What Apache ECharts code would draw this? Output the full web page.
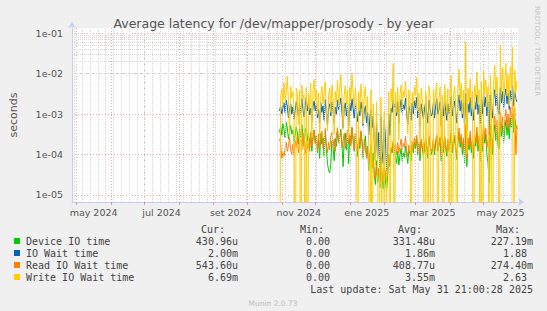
<!DOCTYPE html>
<html><head><meta charset="utf-8">
<script src="https://cdn.jsdelivr.net/npm/echarts@6/dist/echarts.min.js"></script>
<style>html,body{margin:0;padding:0;background:#f0f0f0;}#c{width:547px;height:311px;}</style>
</head><body><div id="c"></div>
<script>
// ---- data ----
const firstSample = Date.UTC(2024, 9, 30); // first daily sample (2024-10-30)
const DAY = 86400000;
const rangeStart = Date.UTC(2024, 3, 26, 21, 0, 28);
const rangeEnd = Date.UTC(2025, 4, 31, 21, 0, 28);

const seriesNames = ['Device IO time', 'IO Wait time', 'Read IO Wait time', 'Write IO Wait time'];
const seriesColors = ['#00cc00', '#0066b3', '#ff8000', '#ffcc00'];
const curVals = ['430.96u', '2.00m', '543.60u', '6.69m'];
const minVals = ['0.00', '0.00', '0.00', '0.00'];
const avgVals = ['331.48u', '1.86m', '408.77u', '3.55m'];
const maxVals = ['227.19m', '1.88', '274.40m', '2.63'];
const monthNames = ['ene','feb','mar','abr','may','jun','jul','ago','set','oct','nov','dic'];
const yTickLabels = {'-5':'1e-05','-4':'1e-04','-3':'1e-03','-2':'1e-02','-1':'1e-01'};

const deviceIO = [
3.5e-4,5.0e-4,3.0e-4,5.8e-4,4.2e-4,2.6e-4,6.2e-4,4.5e-4,2.4e-4,3.6e-4,
5.2e-4,3.2e-4,4.0e-4,2.0e-4,3.0e-4,4.8e-4,3.4e-4,1.8e-4,4.4e-4,2.6e-4,
5.5e-4,3.0e-4,1.6e-4,3.8e-4,4.6e-4,2.2e-4,3.5e-4,1.5e-4,3.2e-4,1.2e-4,
2.8e-4,4.0e-4,2.0e-4,3.0e-4,1.1e-4,2.4e-4,8.0e-5,3.3e-4,1.8e-4,2.6e-4,
9.0e-5,3.6e-4,1.4e-4,6.0e-5,4.0e-5,3.5e-5,6.0e-5,2.2e-4,1.5e-4,7.0e-5,
2.5e-4,1.6e-4,3.8e-4,2.0e-4,2.8e-4,4.2e-4,1.7e-4,5.0e-5,2.3e-4,3.4e-4,
1.3e-4,2.6e-4,6.0e-5,3.0e-4,1.9e-4,4.5e-4,2.4e-4,1.2e-4,3.2e-4,1.8e-4,
9.0e-5,2.6e-4,1.4e-4,3.6e-4,2.0e-4,8.0e-5,1.7e-4,2.9e-4,9.0e-5,1.6e-4,
4.0e-5,1.0e-4,1.8e-4,5.0e-5,1.1e-4,3.0e-5,1.8e-5,7.0e-5,2.0e-5,4.5e-5,
1.5e-5,9.0e-5,2.5e-5,1.4e-5,6.0e-5,2.2e-5,1.2e-5,3.0e-5,1.0e-4,5.0e-5,
1.4e-4,1.1e-4,2.0e-4,1.3e-4,9.0e-5,6.0e-5,1.2e-4,5.5e-5,9.5e-5,1.4e-4,
7.0e-5,1.1e-4,8.5e-5,1.6e-4,1.0e-4,6.0e-5,1.3e-4,1.0e-4,7.0e-5,1.7e-4,
1.1e-4,2.0e-4,1.4e-4,2.6e-4,1.0e-4,1.8e-4,7.0e-5,2.2e-4,1.5e-4,9.0e-5,
1.3e-4,2.4e-4,1.4e-4,8.0e-5,2.6e-4,1.7e-4,1.0e-4,1.2e-4,2.3e-4,1.0e-4,
1.9e-4,2.8e-4,1.2e-4,1.6e-4,2.5e-4,7.0e-5,1.8e-4,1.1e-4,2.7e-4,1.5e-4,
9.0e-5,2.1e-4,1.2e-4,1.9e-4,3.2e-4,1.1e-4,1.7e-4,2.6e-4,1.3e-4,7.5e-5,
2.0e-4,3.6e-4,1.5e-4,2.7e-4,1.0e-4,2.2e-4,6.0e-5,4.0e-4,5.0e-5,2.1e-4,
1.3e-4,3.0e-4,1.1e-4,1.9e-4,8.0e-5,2.5e-4,1.6e-4,3.6e-4,1.2e-4,2.2e-4,
7.0e-5,2.8e-4,1.2e-4,4.2e-4,1.9e-4,3.2e-4,1.0e-4,6.0e-5,2.0e-5,3.5e-4,
1.8e-4,1.0e-4,3.0e-4,5.5e-4,2.2e-4,4.4e-4,1.6e-4,1.4e-4,6.5e-4,2.8e-4,
5.2e-4,2.0e-4,4.0e-4,7.0e-4,3.0e-4,5.8e-4,2.4e-4,8.0e-4,4.6e-4,1.0e-3,
3.5e-4,7.5e-4,5.0e-4,4.31e-4];

const ioWait = [
1.2e-3,1.6e-3,1.0e-3,1.4e-3,1.9e-3,1.1e-3,2.2e-3,1.5e-3,8.0e-4,1.3e-3,
1.8e-3,1.0e-3,1.5e-3,7.5e-4,1.2e-3,2.0e-3,1.4e-3,9.0e-4,1.7e-3,1.1e-3,
2.4e-3,1.3e-3,8.5e-4,1.6e-3,2.6e-3,1.2e-3,1.8e-3,9.5e-4,1.4e-3,6.5e-4,
1.5e-3,2.1e-3,1.2e-3,1.7e-3,8.0e-4,1.3e-3,6.0e-4,1.9e-3,1.1e-3,1.6e-3,
7.0e-4,2.3e-3,1.0e-3,5.5e-4,1.4e-3,1.8e-3,9.0e-4,2.0e-3,1.2e-3,6.0e-4,
1.5e-3,1.0e-3,2.2e-3,1.3e-3,1.7e-3,2.5e-3,1.1e-3,4.5e-4,1.4e-3,1.9e-3,
9.0e-4,1.6e-3,5.0e-4,1.8e-3,1.2e-3,2.4e-3,1.4e-3,8.0e-4,1.7e-3,1.1e-3,
6.5e-4,1.5e-3,9.0e-4,2.0e-3,1.3e-3,5.0e-4,1.2e-3,1.6e-3,6.0e-4,1.1e-3,
3.0e-4,8.0e-4,1.3e-3,4.5e-4,9.0e-4,2.0e-4,7.0e-5,6.0e-4,8.0e-5,3.5e-4,
5.0e-5,8.5e-4,1.2e-4,6.0e-5,7.0e-4,2.5e-4,4.0e-5,1.1e-4,1.0e-3,3.0e-4,
1.4e-3,1.1e-3,2.2e-3,1.5e-3,1.8e-3,9.0e-4,2.0e-3,6.0e-4,1.4e-3,2.3e-3,
1.1e-3,1.7e-3,1.3e-3,2.5e-3,1.0e-3,5.5e-4,1.6e-3,1.2e-3,7.0e-4,1.9e-3,
1.0e-3,2.1e-3,1.4e-3,2.6e-3,8.0e-4,1.5e-3,5.0e-4,1.8e-3,1.2e-3,7.5e-4,
1.3e-3,2.0e-3,1.1e-3,6.0e-4,2.2e-3,1.4e-3,9.0e-4,1.0e-3,1.9e-3,8.0e-4,
1.6e-3,2.4e-3,1.0e-3,1.3e-3,2.0e-3,5.0e-4,1.5e-3,9.0e-4,2.3e-3,1.2e-3,
7.0e-4,1.8e-3,1.0e-3,1.6e-3,2.7e-3,9.0e-4,1.4e-3,2.1e-3,1.1e-3,6.0e-4,
1.7e-3,3.0e-3,1.2e-3,2.2e-3,8.0e-4,1.9e-3,5.0e-4,3.2e-3,4.0e-4,1.8e-3,
1.1e-3,2.6e-3,9.0e-4,1.5e-3,7.0e-4,2.0e-3,1.3e-3,3.0e-3,1.0e-3,1.7e-3,
6.0e-4,2.2e-3,1.0e-3,3.4e-3,1.5e-3,2.6e-3,9.0e-4,2.0e-3,3.0e-4,3.0e-3,
1.4e-3,8.0e-4,2.4e-3,4.0e-3,1.6e-3,3.1e-3,1.2e-3,1.0e-3,4.5e-3,1.9e-3,
3.6e-3,1.4e-3,2.8e-3,4.2e-3,1.8e-3,3.3e-3,1.3e-3,3.8e-3,2.2e-3,5.0e-3,
1.6e-3,3.5e-3,2.4e-3,2.0e-3];

const readWait = [
2.4e-4,1.9e-4,8.0e-5,1.1e-4,9.0e-5,1.4e-4,2.0e-4,1.2e-4,1.6e-4,2.6e-4,
1.3e-4,1.0e-4,1.8e-4,9.0e-5,2.2e-4,1.5e-4,3.0e-4,1.1e-4,1.7e-4,2.4e-4,
1.3e-4,3.4e-4,1.5e-4,1.0e-4,2.1e-4,1.4e-4,2.8e-4,1.2e-4,3.6e-4,1.6e-4,
2.3e-4,4.0e-4,1.8e-4,2.6e-4,1.2e-4,3.2e-4,1.5e-4,2.2e-4,3.8e-4,1.4e-4,
2.5e-4,4.4e-4,1.7e-4,1.1e-4,2.0e-4,1.3e-4,2.9e-4,3.5e-4,1.6e-4,2.4e-4,
1.2e-4,3.0e-4,4.6e-4,1.9e-4,2.7e-4,3.8e-4,1.5e-4,2.2e-4,3.3e-4,1.4e-4,
2.6e-4,4.2e-4,1.8e-4,3.1e-4,1.6e-4,4.8e-4,2.3e-4,1.3e-4,3.4e-4,2.0e-4,
1.2e-4,2.8e-4,1.6e-4,3.9e-4,2.1e-4,1.0e-4,2.4e-4,1.7e-4,8.0e-5,1.5e-4,
6.0e-5,9.0e-5,1.3e-4,4.5e-5,7.0e-5,3.5e-5,2.5e-5,5.5e-5,2.8e-5,4.0e-5,
2.2e-5,6.5e-5,3.0e-5,2.0e-5,5.0e-5,3.2e-5,2.4e-5,4.5e-5,9.0e-5,6.0e-5,
1.5e-4,1.2e-4,2.2e-4,1.4e-4,1.8e-4,1.0e-4,2.0e-4,1.1e-4,1.6e-4,2.4e-4,
1.3e-4,1.9e-4,1.5e-4,2.8e-4,1.2e-4,9.0e-5,1.7e-4,1.4e-4,1.0e-4,2.1e-4,
1.3e-4,2.6e-4,1.7e-4,3.0e-4,1.2e-4,2.0e-4,1.0e-4,2.4e-4,1.6e-4,1.1e-4,
1.5e-4,2.7e-4,1.6e-4,1.0e-4,2.9e-4,1.8e-4,1.2e-4,1.4e-4,2.5e-4,1.2e-4,
2.1e-4,3.1e-4,1.4e-4,1.8e-4,2.7e-4,1.0e-4,2.0e-4,1.3e-4,3.0e-4,1.7e-4,
1.1e-4,2.4e-4,1.5e-4,2.2e-4,3.6e-4,1.3e-4,2.0e-4,3.0e-4,1.6e-4,1.0e-4,
2.4e-4,4.5e-4,1.8e-4,3.2e-4,1.3e-4,2.6e-4,9.0e-5,5.5e-4,8.0e-5,2.6e-4,
1.6e-4,3.8e-4,1.4e-4,2.4e-4,1.1e-4,3.2e-4,2.0e-4,4.8e-4,1.6e-4,2.9e-4,
1.0e-4,3.6e-4,1.7e-4,6.0e-4,2.5e-4,4.4e-4,1.5e-4,2.2e-4,6.0e-5,5.5e-4,
2.6e-4,1.5e-4,4.6e-4,9.0e-4,3.4e-4,7.0e-4,2.6e-4,2.0e-4,1.1e-3,4.4e-4,
8.5e-4,3.2e-4,6.5e-4,1.3e-3,5.0e-4,1.0e-3,4.0e-4,1.5e-3,7.5e-4,2.0e-3,
6.0e-4,1.4e-3,1.0e-4,5.436e-4];

const writeWait = [
0,2.6e-3,4.2e-3,1.6e-3,6.0e-3,2.2e-3,3.4e-3,8.5e-3,2.0e-3,3.0e-4,
4.8e-3,2.5e-3,3.6e-3,1.2e-3,0,4.4e-3,2.8e-3,5.5e-4,3.9e-3,0,
5.2e-3,2.4e-3,3.0e-3,0,4.6e-3,0,3.2e-3,1.5e-3,5.8e-3,2.6e-4,
3.8e-3,7.2e-3,2.1e-3,4.0e-3,1.0e-3,3.3e-3,2.2e-4,2.7e-3,4.9e-3,1.8e-3,
3.5e-3,6.2e-3,1.3e-3,3.8e-4,2.9e-3,4.4e-3,1.1e-3,5.3e-3,2.4e-3,3.1e-4,
3.6e-3,2.0e-3,6.8e-3,1.5e-3,4.1e-3,9.5e-3,2.3e-3,4.2e-4,3.0e-3,5.0e-3,
1.7e-3,3.9e-3,2.5e-4,4.7e-3,2.2e-3,1.0e-2,3.3e-3,1.4e-3,4.5e-3,2.0e-3,
0,3.6e-3,1.2e-3,5.6e-3,2.4e-3,6.0e-4,3.1e-3,4.8e-3,9.0e-4,2.7e-3,
1.5e-4,0,4.0e-3,0,1.8e-3,3.0e-4,5.5e-5,2.0e-3,6.0e-5,0,
3.0e-5,2.6e-3,0,4.0e-5,1.2e-3,0,2.5e-5,7.0e-5,3.5e-3,0,
4.2e-3,2.0e-3,1.8e-2,0,3.4e-3,1.1e-3,4.6e-3,2.3e-4,2.8e-3,5.2e-3,
1.4e-3,3.7e-3,2.6e-3,6.5e-3,1.9e-3,3.2e-4,4.0e-3,2.2e-3,0,3.5e-3,
1.6e-3,4.8e-3,2.9e-3,8.0e-3,1.2e-3,3.3e-3,2.1e-4,4.4e-3,2.5e-3,1.3e-3,
0,3.8e-3,2.0e-3,0,5.0e-3,2.7e-3,0,0,4.1e-3,1.5e-3,
3.6e-3,6.0e-3,0,2.3e-3,4.7e-3,1.9e-4,3.0e-3,0,5.4e-3,2.4e-3,
1.1e-3,4.2e-3,0,3.3e-3,9.0e-3,0,2.8e-3,4.9e-3,1.7e-3,0,
3.5e-3,1.3e-2,2.2e-3,5.8e-3,1.0e-3,3.9e-3,2.5e-4,6.0e-2,1.0e-4,4.4e-3,
2.0e-3,7.5e-3,1.4e-3,3.6e-3,0,5.2e-3,2.6e-3,1.1e-2,1.8e-3,4.0e-3,
0,6.4e-3,0,1.2e-2,3.2e-3,7.0e-3,1.5e-3,4.8e-3,0,9.0e-3,
2.4e-3,0,5.6e-3,1.6e-2,3.0e-3,8.2e-3,1.9e-3,0,5.0e-2,3.4e-3,
1.4e-2,2.2e-3,6.0e-3,1.8e-2,2.8e-3,9.5e-3,1.6e-3,1.5e-2,4.2e-3,4.5e-2,
0,1.2e-2,3.5e-3,6.69e-3];

// ---- chart ----
const Y_MIN = 6.67e-6, Y_MAX = 0.135;
const seriesData = [deviceIO, ioWait, readWait, writeWait];
// zero readings fall below the log axis floor (drawn as drops to the bottom)
function toPoints(arr) { return arr.map((v, i) => [firstSample + i * DAY, v > 0 ? v : 1e-9]); }

const FONT = 'DejaVu Sans';
const MONO = 'DejaVu Sans Mono';
const redGrid = { color: 'rgba(226,110,110,0.6)', type: [1, 2], width: 1 };
const axisCol = '#c5cdf5';

// minor grid positions
const minorY = [];
for (let e = -6; e <= -1; e++) for (let k = 2; k <= 9; k++) {
  const v = k * Math.pow(10, e);
  if (v > Y_MIN && v < Y_MAX) minorY.push({ yAxis: v });
}
const minorX = [];
for (let t = Date.UTC(2024, 3, 29); t < rangeEnd; t += 7 * DAY) if (t > rangeStart) minorX.push({ xAxis: t });

const series = [{
  name: 'grid', type: 'line', data: [], z: 1, silent: true,
  markLine: { silent: true, symbol: ['none', 'none'], label: { show: false }, animation: false,
    lineStyle: { color: '#d6d6d6', type: [1, 1], width: 1 }, emphasis: { disabled: true },
    data: minorY.concat(minorX) }
}];
seriesData.forEach((arr, i) => series.push({
  name: seriesNames[i], type: 'line', data: toPoints(arr), showSymbol: false, symbol: 'none',
  lineStyle: { color: seriesColors[i], width: 1 }, itemStyle: { color: seriesColors[i] },
  clip: true, animation: false, z: 2 + i, emphasis: { disabled: true }
}));

const graphic = [];
graphic.push({ type: 'text', x: 537, y: 6, rotation: -Math.PI / 2,
  style: { text: 'RRDTOOL / TOBI OETIKER', fill: '#c4c4c4', fontSize: 7, fontFamily: FONT, align: 'left', verticalAlign: 'middle' } });
const hdrY = 229.5;
[['Cur:', 225], ['Min:', 324], ['Avg:', 422], ['Max:', 520]].forEach(h => graphic.push({
  type: 'text', x: h[1], y: hdrY, style: { text: h[0], fill: '#444', fontSize: 10, fontFamily: MONO, align: 'right', verticalAlign: 'middle' } }));
const rowY = [241, 253, 265, 277];
function colX(s, base) { return /[0-9]$/.test(s) ? base - 6 : base; }
seriesNames.forEach((n, i) => {
  const y = rowY[i];
  graphic.push({ type: 'rect', shape: { x: 14, y: y - 3, width: 6, height: 6 }, style: { fill: seriesColors[i] } });
  graphic.push({ type: 'text', x: 26, y: y, style: { text: n, fill: '#444', fontSize: 10, fontFamily: MONO, align: 'left', verticalAlign: 'middle' } });
  [[curVals[i], 238], [minVals[i], 336], [avgVals[i], 435], [maxVals[i], 533]].forEach(c => graphic.push({
    type: 'text', x: colX(c[0], c[1]), y: y, style: { text: c[0], fill: '#444', fontSize: 10, fontFamily: MONO, align: 'right', verticalAlign: 'middle' } }));
});
graphic.push({ type: 'text', x: 533, y: 289.5, style: { text: 'Last update: Sat May 31 21:00:28 2025', fill: '#444', fontSize: 10, fontFamily: MONO, align: 'right', verticalAlign: 'middle' } });
graphic.push({ type: 'text', x: 273, y: 303, style: { text: 'Munin 2.0.73', fill: '#bdbdbd', fontSize: 7.5, fontFamily: FONT, align: 'center', verticalAlign: 'middle' } });

const option = {
  useUTC: true,
  animation: false,
  backgroundColor: '#f0f0f0',
  title: { text: 'Average latency for /dev/mapper/prosody - by year', left: 'center', top: 12,
    textStyle: { color: '#555', fontSize: 12.5, fontWeight: 'normal', fontFamily: FONT } },
  grid: { left: 67, top: 28, width: 451, height: 174, show: true, backgroundColor: '#ffffff', borderWidth: 0 },
  xAxis: {
    type: 'time', min: rangeStart, max: rangeEnd, minInterval: 28 * DAY, maxInterval: 31 * DAY,
    axisLine: { show: true, lineStyle: { color: axisCol }, symbol: ['none', 'arrow'], symbolSize: [6, 6], symbolOffset: [0, 6] },
    axisTick: { show: true, length: 3, lineStyle: { color: 'rgba(226,110,110,0.7)' } },
    axisLabel: {
      color: '#555', fontSize: 9.5, fontFamily: FONT, margin: 5, padding: [0, 0, 0, 34], hideOverlap: false,
      formatter: function (v) {
        const d = new Date(v);
        if (d.getUTCDate() !== 1 || d.getUTCHours() !== 0) return '';
        const m = d.getUTCMonth();
        if (m % 2) return '';
        return monthNames[m] + ' ' + d.getUTCFullYear();
      }
    },
    splitLine: { show: true, showMinLine: false, showMaxLine: false, lineStyle: redGrid }
  },
  yAxis: {
    type: 'log', logBase: 10, min: Y_MIN, max: Y_MAX,
    name: 'seconds', nameLocation: 'middle', nameGap: 53, nameRotate: 90,
    nameTextStyle: { color: '#555', fontSize: 11, fontFamily: FONT },
    axisLine: { show: true, lineStyle: { color: axisCol }, symbol: ['none', 'arrow'], symbolSize: [6, 6], symbolOffset: [0, 6] },
    axisTick: { show: false },
    axisLabel: {
      color: '#555', fontSize: 9.5, fontFamily: FONT, margin: 9,
      formatter: function (v) {
        const l = Math.log10(v), e = Math.round(l);
        if (Math.abs(l - e) > 1e-6) return '';
        return yTickLabels[String(e)] || '';
      }
    },
    splitLine: { show: true, showMinLine: false, showMaxLine: false, lineStyle: redGrid }
  },
  series: series,
  graphic: graphic
};

const chart = echarts.init(document.getElementById('c'), null, { renderer: 'svg' });
chart.setOption(option);
</script></body></html>
